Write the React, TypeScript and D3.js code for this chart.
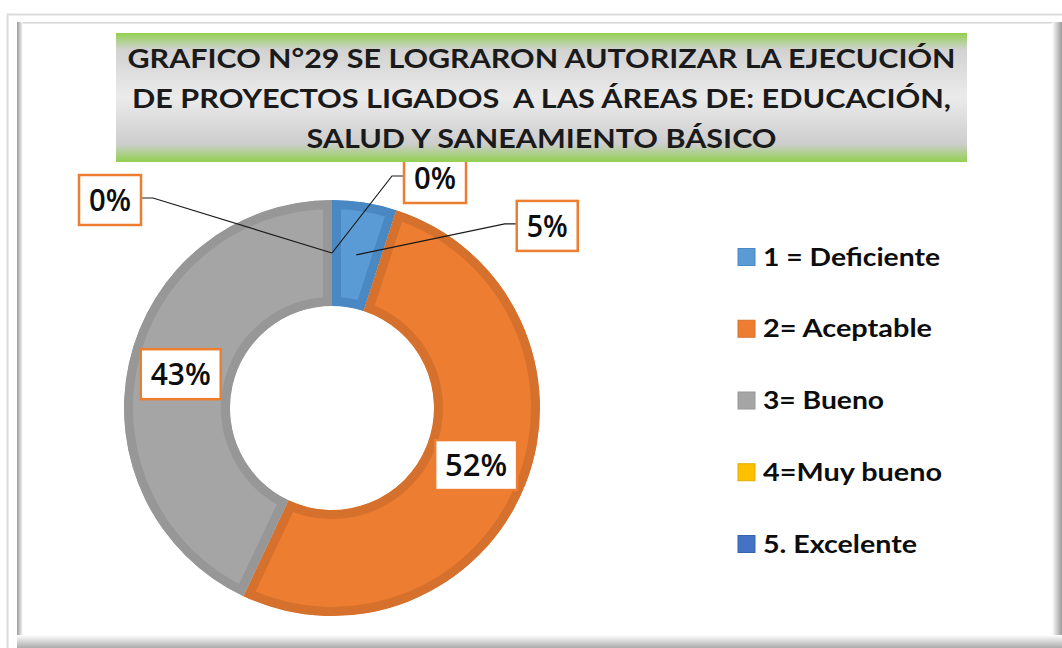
import React from 'react';
import * as d3 from 'd3';

// ---- data ----
const categories = ['1 = Deficiente', '2= Aceptable', '3= Bueno', '4=Muy bueno', '5. Excelente'];
const values = [5, 52, 43, 0, 0];
const percentLabels = ['5%', '52%', '43%', '0%', '0%'];
const titleLines = [
  'GRAFICO N°29 SE LOGRARON AUTORIZAR LA EJECUCIÓN',
  'DE PROYECTOS LIGADOS  A LAS ÁREAS DE: EDUCACIÓN,',
  'SALUD Y SANEAMIENTO BÁSICO',
];
const fillColors = ['#5B9BD5', '#ED7D31', '#A5A5A5', '#FFC000', '#4472C4'];
const edgeColors = ['#4A88C3', '#D5712C', '#979797', '#E3AC00', '#3A64B0'];

// ---- layout ----
const W = 1062;
const H = 648;
const cx = 332;
const cy = 408;
const rOuter = 208;
const rInner = 102;
// label offsets from slice centroid ([0,0] = on centroid, no leader)
const labelOffsets: [number, number][] = [[191, -29], [0, 0], [0, 0], [103, -75], [-222, -53]];
const labelTextWidths = [41, 62, 60, 42, 42];
const titleWidths = [828, 819, 470];
const legendWidths = [177, 169, 121, 179, 154];

export default function App() {
  const pie = d3.pie<number>().sort(null).value((d) => d).startAngle(0).endAngle(2 * Math.PI);
  const arcs = pie(values);
  const arc = d3.arc<d3.PieArcDatum<number>>().innerRadius(rInner).outerRadius(rOuter);
  const legendY = d3.scalePoint<number>().domain(d3.range(categories.length)).range([257, 544]);

  const font = 'Lato, "Open Sans", sans-serif';
  const labelFont = '"Open Sans", Lato, sans-serif';

  return (
    <svg width={W} height={H} style={{ position: 'absolute', left: 0, top: 0, display: 'block' }}>
      <defs>
        <linearGradient id="titleGrad" x1="0" y1="0" x2="0" y2="1">
          <stop offset="0" stopColor="#92D050" />
          <stop offset="0.13" stopColor="#D2D2D2" />
          <stop offset="0.5" stopColor="#EBEBEB" />
          <stop offset="0.86" stopColor="#CDCDCD" />
          <stop offset="1" stopColor="#92D050" />
        </linearGradient>
        <linearGradient id="leftEdge" x1="0" y1="0" x2="1" y2="0">
          <stop offset="0" stopColor="#9A9A9A" />
          <stop offset="1" stopColor="#FFFFFF" />
        </linearGradient>
        <linearGradient id="rightEdge" x1="0" y1="0" x2="1" y2="0">
          <stop offset="0" stopColor="#FFFFFF" />
          <stop offset="1" stopColor="#9A9A9A" />
        </linearGradient>
        <linearGradient id="bottomEdge" x1="0" y1="0" x2="0" y2="1">
          <stop offset="0" stopColor="#FFFFFF" />
          <stop offset="1" stopColor="#ABABAB" />
        </linearGradient>
        {arcs.map((a, i) => (
          <clipPath id={`clip${i}`} key={i}>
            <path d={arc(a) || ''} />
          </clipPath>
        ))}
      </defs>

      {/* frame */}
      <rect x={0} y={0} width={W} height={H} fill="#FFFFFF" />
      <rect x={7.5} y={14.5} width={1070} height={660} fill="none" stroke="#DCDCDC" strokeWidth={2} />
      <rect x={17} y={22} width={1045} height={626} fill="#FFFFFF" />
      <rect x={17} y={22} width={1045} height={1.5} fill="#D6D6D6" />
      <rect x={17} y={22} width={6} height={626} fill="url(#leftEdge)" />
      <rect x={1052} y={22} width={10} height={626} fill="url(#rightEdge)" />
      <rect x={17} y={635} width={1045} height={13} fill="url(#bottomEdge)" />

      {/* slices */}
      {arcs.map((a, i) =>
        a.value > 0 ? (
          <path
            key={i}
            d={arc(a) || ''}
            transform={`translate(${cx},${cy})`}
            fill={fillColors[i]}
            stroke={edgeColors[i]}
            strokeWidth={18}
            clipPath={`url(#clip${i})`}
          />
        ) : null
      )}

      {/* leader lines */}
      {arcs.map((a, i) => {
        const [ox, oy] = labelOffsets[i];
        if (ox === 0 && oy === 0) return null;
        const [px, py] = arc.centroid(a);
        const x0 = cx + px;
        const y0 = cy + py;
        const lx = x0 + ox;
        const ly = y0 + oy;
        const boxW = labelTextWidths[i] + 20;
        const edgeX = ox > 0 ? lx - boxW / 2 : lx + boxW / 2;
        const elbowX = ox > 0 ? edgeX - 12 : edgeX + 12;
        return (
          <polyline
            key={`l${i}`}
            points={`${edgeX},${ly - 2} ${elbowX},${ly - 2} ${x0},${y0}`}
            fill="none"
            stroke="#1A1A1A"
            strokeWidth={1.2}
          />
        );
      })}

      {/* data labels */}
      {arcs.map((a, i) => {
        const [px, py] = arc.centroid(a);
        const lx = cx + px + labelOffsets[i][0];
        const ly = cy + py + labelOffsets[i][1];
        const tw = labelTextWidths[i];
        const bw = tw + 20;
        const bh = 50;
        return (
          <g key={`t${i}`}>
            <rect x={lx - bw / 2} y={ly - bh / 2} width={bw} height={bh} fill="#FFFFFF" stroke="#ED7D31" strokeWidth={2.5} />
            <text
              x={lx}
              y={ly + 11}
              textAnchor="middle"
              fontFamily={labelFont}
              fontWeight={600}
              fontSize={30}
              fill="#0D0D0D"
              textLength={tw}
              lengthAdjust="spacingAndGlyphs"
            >
              {percentLabels[i]}
            </text>
          </g>
        );
      })}

      {/* title */}
      <rect x={116} y={33} width={851} height={129} fill="url(#titleGrad)" />
      {titleLines.map((t, i) => (
        <text
          key={`h${i}`}
          x={541.5}
          y={68 + i * 40}
          textAnchor="middle"
          fontFamily={font}
          fontWeight="bold"
          fontSize={27}
          fill="#1A1A1A"
          textLength={titleWidths[i]}
          lengthAdjust="spacingAndGlyphs"
          style={{ whiteSpace: 'pre' }}
        >
          {t}
        </text>
      ))}

      {/* legend */}
      {categories.map((c, i) => {
        const y = legendY(i) as number;
        return (
          <g key={`g${i}`}>
            <rect x={738} y={y - 8.5} width={17} height={17} fill={fillColors[i]} stroke={edgeColors[i]} strokeWidth={1} />
            <text
              x={763}
              y={y + 8.5}
              fontFamily={font}
              fontWeight="bold"
              fontSize={24}
              fill="#0D0D0D"
              textLength={legendWidths[i]}
              lengthAdjust="spacingAndGlyphs"
            >
              {c}
            </text>
          </g>
        );
      })}
    </svg>
  );
}
